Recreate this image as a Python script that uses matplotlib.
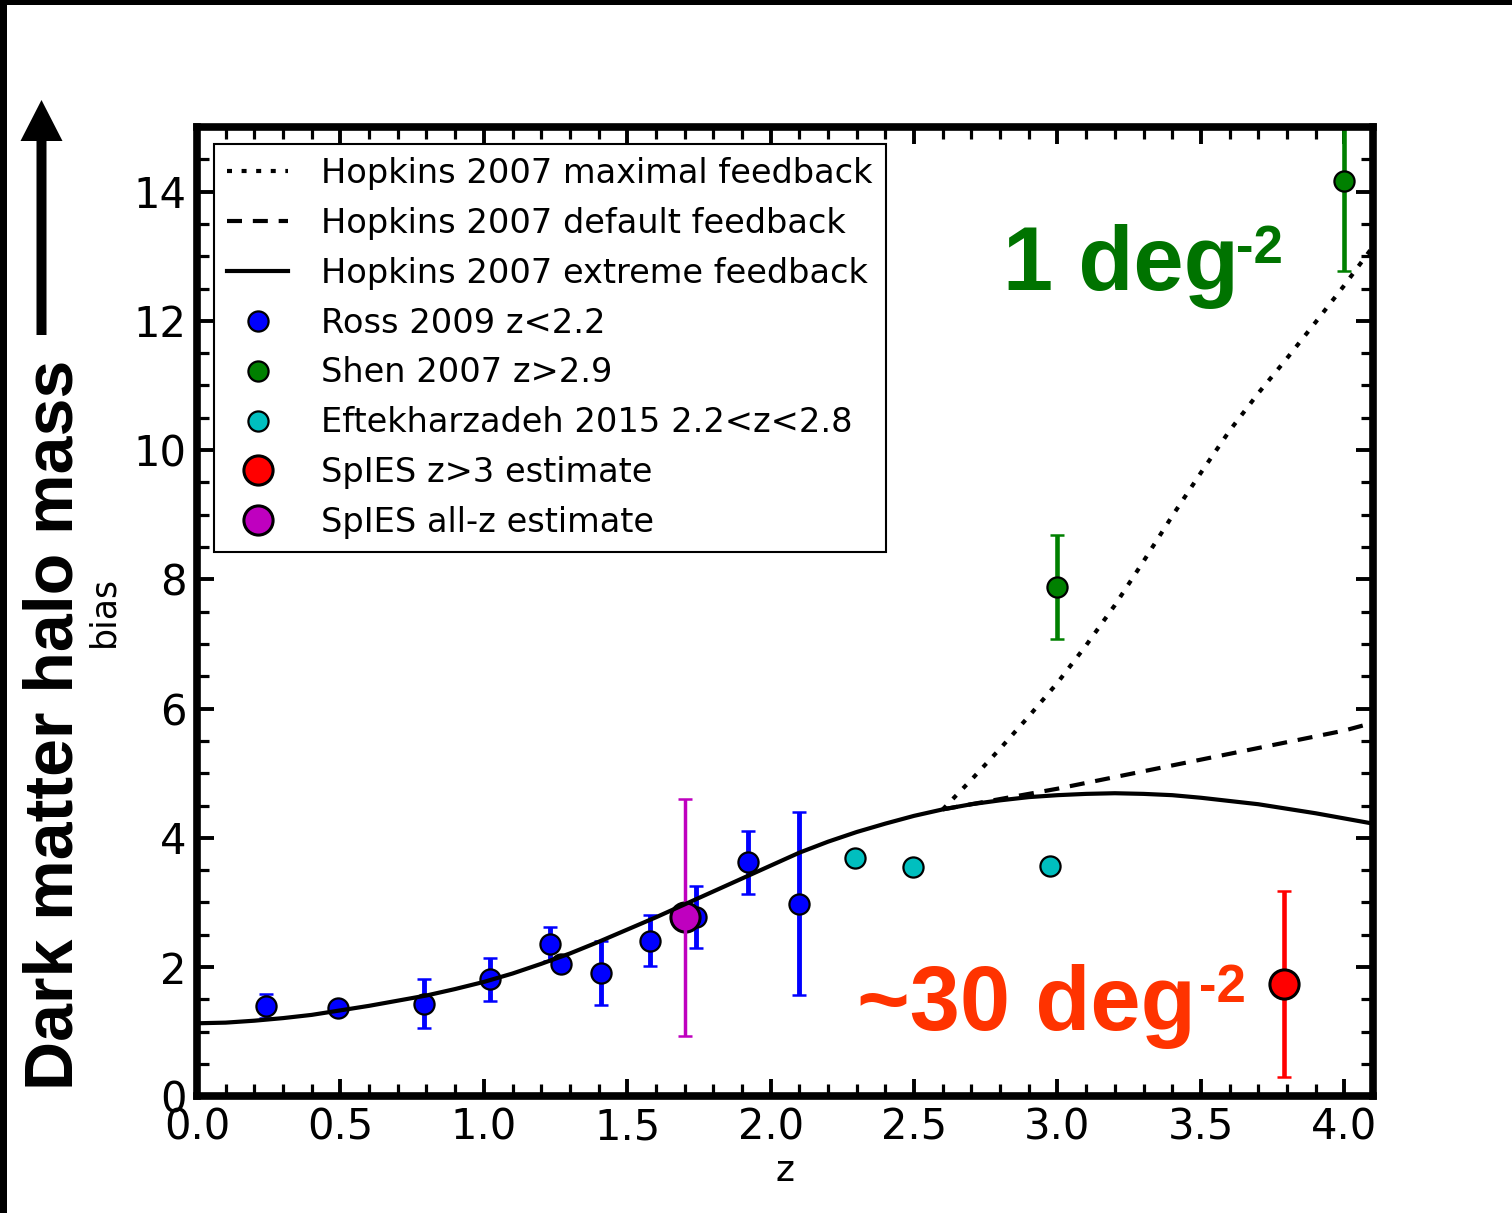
import matplotlib
matplotlib.use("Agg")
import matplotlib.pyplot as plt
from matplotlib.patches import FancyArrow, Rectangle
from matplotlib.transforms import IdentityTransform
from matplotlib.ticker import MultipleLocator

# Hopkins 2007 model bias curves
z_extreme = [0.0, 0.1, 0.2, 0.3, 0.4, 0.5, 0.6, 0.7, 0.8, 0.9, 1.0, 1.1, 1.2, 1.3,
             1.4, 1.5, 1.6, 1.7, 1.8, 1.9, 2.0, 2.1, 2.2, 2.3, 2.4, 2.5, 2.6, 2.7,
             2.8, 2.9, 3.0, 3.1, 3.2, 3.3, 3.4, 3.5, 3.6, 3.7, 3.8, 3.9, 4.0, 4.1]
b_extreme = [1.13, 1.14, 1.17, 1.21, 1.26, 1.33, 1.40, 1.48, 1.56, 1.66, 1.77, 1.90,
             2.05, 2.21, 2.39, 2.58, 2.77, 2.97, 3.17, 3.37, 3.57, 3.77, 3.94, 4.09,
             4.22, 4.34, 4.44, 4.52, 4.58, 4.63, 4.66, 4.68, 4.69, 4.68, 4.66, 4.62,
             4.57, 4.52, 4.45, 4.38, 4.30, 4.22]
z_default = [2.6, 2.8, 3.0, 3.2, 3.4, 3.6, 3.8, 4.0, 4.1]
b_default = [4.44, 4.60, 4.76, 4.94, 5.12, 5.30, 5.48, 5.66, 5.78]
z_maximal = [2.6, 2.7, 2.8, 2.9, 3.0, 3.1, 3.2, 3.3, 3.4, 3.5, 3.6, 3.7, 3.8, 3.9,
             4.0, 4.1]
b_maximal = [4.44, 4.90, 5.38, 5.88, 6.40, 6.98, 7.60, 8.28, 8.98, 9.65, 10.30,
             10.88, 11.42, 11.98, 12.55, 13.15]

# Measurements
ross_z = [0.24, 0.49, 0.79, 1.02, 1.23, 1.27, 1.41, 1.58, 1.74, 1.92, 2.10]
ross_b = [1.40, 1.37, 1.43, 1.81, 2.36, 2.05, 1.91, 2.41, 2.78, 3.62, 2.98]
ross_err = [0.19, 0.05, 0.38, 0.33, 0.26, 0.08, 0.50, 0.40, 0.48, 0.49, 1.42]

shen_z = [3.0, 4.0]
shen_b = [7.88, 14.17]
shen_err = [0.80, 1.40]

eft_z = [2.295, 2.497, 2.974]
eft_b = [3.68, 3.55, 3.57]

spies_hiz_z = [3.79]
spies_hiz_b = [1.74]
spies_hiz_err = [1.44]

spies_all_z = [1.70]
spies_all_b = [2.77]
spies_all_err = [1.83]

labels = ["Hopkins 2007 maximal feedback", "Hopkins 2007 default feedback",
          "Hopkins 2007 extreme feedback", "Ross 2009 z<2.2", "Shen 2007 z>2.9",
          "Eftekharzadeh 2015 2.2<z<2.8", "SpIES z>3 estimate", "SpIES all-z estimate"]
xticks = [0.0, 0.5, 1.0, 1.5, 2.0, 2.5, 3.0, 3.5, 4.0]
yticks = [0, 2, 4, 6, 8, 10, 12, 14]

plt.rcParams['font.family'] = ['DejaVu Sans']

W, H = 1512, 1213
fig = plt.figure(figsize=(W / 100, H / 100), dpi=100)
ax = fig.add_axes([197 / W, 1 - 1096.3 / H, 1176 / W, 969.3 / H])

# error bars
ax.errorbar(ross_z, ross_b, yerr=ross_err, fmt='none', ecolor='#0000ff',
            elinewidth=3.5, capsize=5, capthick=1.8, zorder=2)
ax.errorbar(shen_z, shen_b, yerr=shen_err, fmt='none', ecolor='#008000',
            elinewidth=3.3, capsize=5, capthick=1.8, zorder=2)
ax.errorbar(spies_hiz_z, spies_hiz_b, yerr=spies_hiz_err, fmt='none', ecolor='#ff0000',
            elinewidth=3.3, capsize=5, capthick=1.8, zorder=2)

# markers
h_ross, = ax.plot(ross_z, ross_b, ls='none', marker='o', ms=14.5, mfc='#0000ff',
                  mec='k', mew=1.6, zorder=2.2)
h_shen, = ax.plot(shen_z, shen_b, ls='none', marker='o', ms=14.5, mfc='#008000',
                  mec='k', mew=1.6, zorder=2.2)
h_eft, = ax.plot(eft_z, eft_b, ls='none', marker='o', ms=14.5, mfc='#00bfbf',
                 mec='k', mew=1.6, zorder=2.2)
h_hiz, = ax.plot(spies_hiz_z, spies_hiz_b, ls='none', marker='o', ms=21, mfc='#ff0000',
                 mec='k', mew=2.2, zorder=2.2)
h_all, = ax.plot(spies_all_z, spies_all_b, ls='none', marker='o', ms=21, mfc='#bf00bf',
                 mec='k', mew=2.2, zorder=2.3)
ax.errorbar(spies_all_z, spies_all_b, yerr=spies_all_err, fmt='none', ecolor='#bf00bf',
            elinewidth=2.5, capsize=5, capthick=1.8, zorder=2.4)

# model curves
h_max, = ax.plot(z_maximal, b_maximal, color='k', lw=3, dashes=(1.2, 2.3), zorder=3)
h_def, = ax.plot(z_default, b_default, color='k', lw=3, dashes=(3.6, 2.6), zorder=3)
h_ext, = ax.plot(z_extreme, b_extreme, color='k', lw=3, zorder=3)

ax.set_xlim(0, 4.1)
ax.set_ylim(0, 15)
ax.set_xticks(xticks)
ax.set_xticklabels([f"{v:.1f}" for v in xticks])
ax.set_yticks(yticks)
ax.xaxis.set_minor_locator(MultipleLocator(0.1))
ax.yaxis.set_minor_locator(MultipleLocator(0.5))
ax.tick_params(which='both', direction='in', top=True, right=True, labelsize=30)
ax.tick_params(which='major', length=12, width=2.8, pad=7.5)
ax.tick_params(which='minor', length=8.5, width=2.3)
for sp in ax.spines.values():
    sp.set_linewidth(5.5)
    sp.set_zorder(4)

ax.set_xlabel("z", fontsize=26)
ax.xaxis.set_label_coords(0.5, -0.060)
ax.set_ylabel("bias", fontsize=25)
ax.yaxis.set_label_coords(-0.065, 0.5)

leg = ax.legend([h_max, h_def, h_ext, h_ross, h_shen, h_eft, h_hiz, h_all], labels,
                loc='upper left', fontsize=24.2, fancybox=False, framealpha=1,
                edgecolor='k', handlelength=1.8, handletextpad=1.0, numpoints=1,
                borderaxespad=0.5, labelspacing=0.5)
leg.get_frame().set_linewidth(1.5)
leg.set_zorder(5)

# density annotations
green_txt = '#007300'
red_txt = '#ff3300'
fig.text(1003 / W, 923 / H, "1 deg", color=green_txt, fontsize=65, fontweight='bold',
         family='Liberation Sans', ha='left', va='baseline')
fig.text(1236 / W, 950 / H, "-2", color=green_txt, fontsize=38, fontweight='bold',
         family='Liberation Sans', ha='left', va='baseline')
fig.text(857 / W, 183 / H, "~30 deg", color=red_txt, fontsize=65, fontweight='bold',
         family='Liberation Sans', ha='left', va='baseline')
fig.text(1199 / W, 211 / H, "-2", color=red_txt, fontsize=38, fontweight='bold',
         family='Liberation Sans', ha='left', va='baseline')

# outer axis title with arrow
fig.text(73 / W, 488 / H, "Dark matter halo mass", rotation=90, rotation_mode='anchor',
         fontsize=49, fontweight='bold', family='Liberation Sans',
         ha='center', va='baseline')
fig.add_artist(FancyArrow(41.5, 878, 0, 235, width=10, head_width=42, head_length=41,
                          length_includes_head=True, color='k', lw=0,
                          transform=IdentityTransform()))

# frame bands on the top and left edges
fig.add_artist(Rectangle((0, 0), 7 / W, 1, transform=fig.transFigure,
                         color='k', lw=0))
fig.add_artist(Rectangle((0, 1 - 5 / H), 1, 5 / H, transform=fig.transFigure,
                         color='k', lw=0))

fig.savefig("out.png", dpi=100, facecolor='white')
